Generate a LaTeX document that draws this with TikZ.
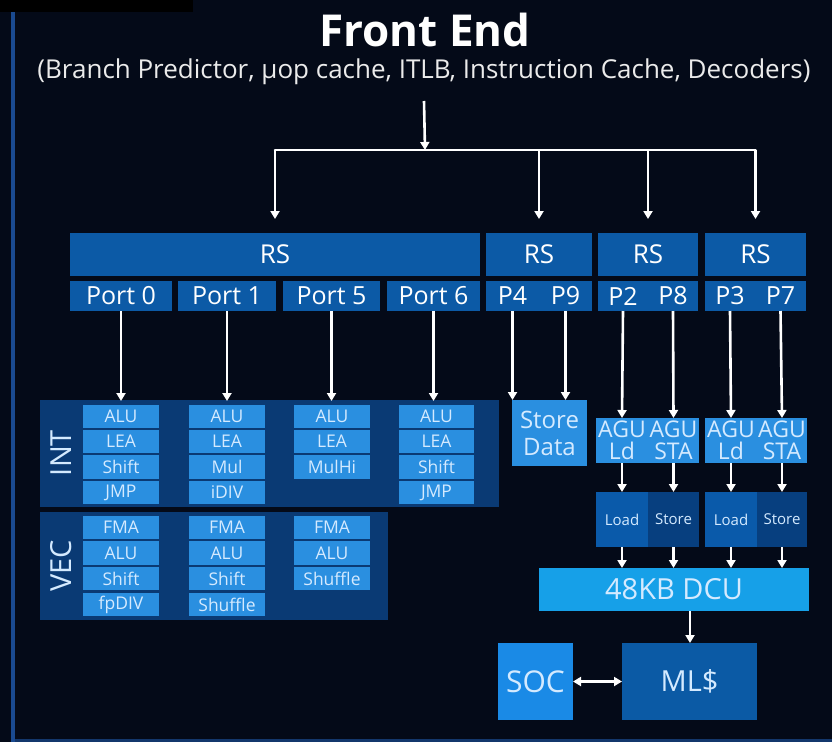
\documentclass[tikz,border=0pt]{standalone}
\usepackage{fontspec}
\setmainfont{Open Sans}
\usetikzlibrary{arrows.meta}
\definecolor{bg}{HTML}{040A18}
\definecolor{edgeblue}{HTML}{1A4A90}
\definecolor{rsblue}{HTML}{0C5AA6}
\definecolor{paneldark}{HTML}{0A3A74}
\definecolor{unitblue}{HTML}{2A8FE0}
\definecolor{unittext}{HTML}{D4EAFF}
\definecolor{loadblue}{HTML}{0A5AAA}
\definecolor{storeblue}{HTML}{073F7F}
\definecolor{dcublue}{HTML}{16A0E8}
\definecolor{socblue}{HTML}{1A8AE6}
\definecolor{mlblue}{HTML}{0B5AA5}
% block given by its corners: style, x1, y1, x2, y2, name, text
\newcommand\blk[7]{\node[#1,minimum width={#4-#2},minimum height={#5-#3}] (#6) at ({(#2+#4)/2},{(#3+#5)/2}) {#7};}
\newcommand\fsz[1]{\fontsize{#1}{#1}\selectfont}
\begin{document}
\begin{tikzpicture}[x=1pt,y=-1pt,
  base/.style={inner sep=0pt,outer sep=0pt,align=center,text=white},
  rsbox/.style={base,fill=rsblue,font=\fsz{26}},
  portbox/.style={base,fill=rsblue,font=\fsz{25}},
  panel/.style={base,fill=paneldark},
  unit/.style={base,fill=unitblue,text=unittext,font=\fsz{17.5}},
  bigunit/.style={base,fill=unitblue,text=unittext,font=\fontsize{23}{22}\selectfont},
  ldst/.style={base,text=unittext,font=\fsz{15}},
  wline/.style={draw=white,line width=2.6pt},
  warrow/.style={wline,-{Triangle[length=8pt,width=9pt]}},
  darrow/.style={wline,{Triangle[length=8pt,width=9pt]}-{Triangle[length=8pt,width=9pt]}}]
\useasboundingbox (0,0) rectangle (832,742);
\fill[bg] (0,0) rectangle (832,742);
\fill[black] (0,0) rectangle (193,12);
\fill[edgeblue] (11,12) rectangle (15,742);
\fill[edgeblue!70!bg] (15,739) rectangle (832,742);

% front end heading
\node[base,font=\bfseries\fsz{44}] (fe) at (425,30) {Front End};
\node[base,font=\fsz{26},text=white!92!black] (sub) at (424,72)
  {(Branch Predictor, µop cache, ITLB, Instruction Cache, Decoders)};
\coordinate (hbar) at (425,150);

% reservation stations
\blk{rsbox}{70}{233}{480}{276}{rsA}{RS}
\blk{rsbox}{486}{233}{592}{276}{rsB}{RS}
\blk{rsbox}{598}{233}{698}{276}{rsC}{RS}
\blk{rsbox}{705}{233}{806}{276}{rsD}{RS}

% ports
\blk{portbox}{70}{281}{172}{311}{p0}{Port 0}
\blk{portbox}{178}{281}{276}{311}{p1}{Port 1}
\blk{portbox}{283}{281}{380}{311}{p5}{Port 5}
\blk{portbox}{387}{281}{480}{311}{p6}{Port 6}
\blk{portbox}{486}{281}{539}{311}{p4}{P4}
\blk{portbox}{539}{281}{592}{311}{p9}{P9}
\blk{portbox}{598}{281}{648}{311}{p2}{P2}
\blk{portbox}{648}{281}{698}{311}{p8}{P8}
\blk{portbox}{705}{281}{755}{311}{p3}{P3}
\blk{portbox}{755}{281}{806}{311}{p7}{P7}

% execution panels
\blk{panel}{40}{400}{499}{507}{intp}{}
\blk{panel}{40}{512}{388}{620}{vecp}{}
\node[base,rotate=90,font=\fsz{29},text=unittext] at (61,453) {INT};
\node[base,rotate=90,font=\fsz{29},text=unittext] at (61,566) {VEC};

% integer units
\blk{unit}{83}{405}{159}{428}{a0}{ALU}
\blk{unit}{83}{430}{159}{453}{l0}{LEA}
\blk{unit}{83}{455}{159}{479}{s0}{Shift}
\blk{unit}{83}{481}{159}{504}{j0}{JMP}
\blk{unit}{189}{405}{265}{428}{a1}{ALU}
\blk{unit}{189}{430}{265}{453}{l1}{LEA}
\blk{unit}{189}{455}{265}{479}{m1}{Mul}
\blk{unit}{189}{481}{265}{504}{d1}{iDIV}
\blk{unit}{294}{405}{370}{428}{a5}{ALU}
\blk{unit}{294}{430}{370}{453}{l5}{LEA}
\blk{unit}{294}{455}{370}{479}{m5}{MulHi}
\blk{unit}{399}{405}{474}{428}{a6}{ALU}
\blk{unit}{399}{430}{474}{453}{l6}{LEA}
\blk{unit}{399}{455}{474}{479}{s6}{Shift}
\blk{unit}{399}{481}{474}{504}{j6}{JMP}

% vector units
\blk{unit}{83}{516}{159}{539}{vf0}{FMA}
\blk{unit}{83}{541}{159}{565}{va0}{ALU}
\blk{unit}{83}{567}{159}{590}{vs0}{Shift}
\blk{unit}{83}{593}{159}{616}{vd0}{fpDIV}
\blk{unit}{189}{516}{265}{539}{vf1}{FMA}
\blk{unit}{189}{541}{265}{565}{va1}{ALU}
\blk{unit}{189}{567}{265}{590}{vs1}{Shift}
\blk{unit}{189}{593}{265}{616}{vh1}{Shuffle}
\blk{unit}{294}{516}{370}{539}{vf5}{FMA}
\blk{unit}{294}{541}{370}{565}{va5}{ALU}
\blk{unit}{294}{567}{370}{590}{vh5}{Shuffle}

% store data and address generation
\blk{bigunit,font=\fontsize{24}{27}\selectfont}{512}{400}{587}{466}{sd}{Store\\Data}
\blk{bigunit}{596}{418}{648}{463}{agA}{AGU\\Ld}
\blk{bigunit}{648}{418}{699}{463}{agB}{AGU\\STA}
\blk{bigunit}{705}{418}{757}{463}{agC}{AGU\\Ld}
\blk{bigunit}{757}{418}{807}{463}{agD}{AGU\\STA}

% load/store buffers
\blk{ldst,fill=loadblue}{596}{492}{648}{547}{ldA}{Load}
\blk{ldst,fill=storeblue}{648}{492}{699}{547}{stA}{Store}
\blk{ldst,fill=loadblue}{705}{492}{757}{547}{ldB}{Load}
\blk{ldst,fill=storeblue}{757}{492}{807}{547}{stB}{Store}

% data cache and beyond
\blk{base,fill=dcublue,text=unittext,font=\fsz{29}}{539}{568}{809}{611}{dcu}{48KB DCU}
\blk{base,fill=socblue,text=unittext,font=\fsz{30}}{498}{643}{573}{720}{soc}{SOC}
\blk{base,fill=mlblue,text=unittext,font=\fsz{29}}{622}{643}{757}{720}{mlc}{ML\$}

% front end dispatch
\draw[warrow] ([yshift=-16pt]sub.south) -- (hbar);
\draw[wline,line cap=round] (rsA.north |- hbar) -- (rsD.north |- hbar);
\foreach \r in {rsA,rsB,rsC,rsD}
  \draw[warrow,shorten >=14pt] (\r.north |- hbar) -- (\r.north);

% ports to execution units
\foreach \p/\u in {p0/a0,p1/a1,p5/a5,p6/a6}
  \draw[warrow,shorten >=4pt] (\p.south) -- (\p.south |- \u.north);
\draw[warrow] (p4.south) -- (p4.south |- sd.north);
\draw[warrow] (p9.south) -- (p9.south |- sd.north);
\foreach \p/\u in {p2/agA,p8/agB,p3/agC,p7/agD}
  \draw[warrow] (\p.south) -- (\u.north);
\foreach \a/\b in {agA/ldA,agB/stA,agC/ldB,agD/stB}
  \draw[warrow] (\a.south) -- (\b.north);
\foreach \b in {ldA,stA,ldB,stB}
  \draw[warrow] (\b.south) -- (\b.south |- dcu.north);
\draw[warrow] (dcu.south -| 690,0) -- (mlc.north -| 690,0);
\draw[darrow] (soc.east) -- (mlc.west);
\end{tikzpicture}
\end{document}
